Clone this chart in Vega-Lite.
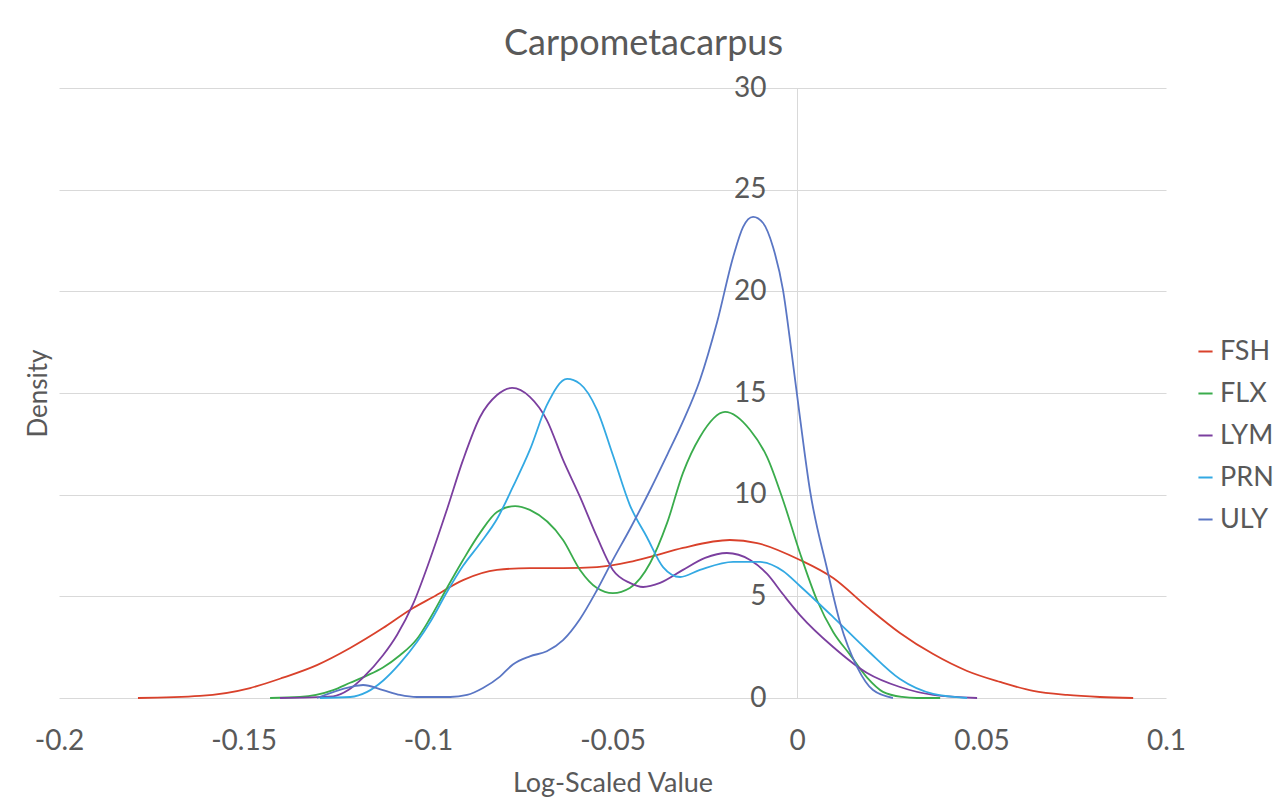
{
  "$schema": "https://vega.github.io/schema/vega-lite/v6.json",
  "autosize": {"type": "none"},
  "width": 1107,
  "height": 610,
  "padding": {"left": 59, "top": 88, "right": 120, "bottom": 109},
  "background": "white",
  "title": {"text": "Carpometacarpus", "fontSize": 36, "font": "Lato", "fontWeight": "normal", "color": "#595959", "anchor": "middle", "offset": 11, "dx": 31},
  "config": {
    "view": {"stroke": null},
    "font": "Lato"
  },
  "data": {"values": [
    {"s":"FSH","x":-0.1786,"y":0},{"s":"FSH","x":-0.1618,"y":0.1},{"s":"FSH","x":-0.1482,"y":0.49},{"s":"FSH","x":-0.1393,"y":1.0},{"s":"FSH","x":-0.1301,"y":1.62},{"s":"FSH","x":-0.1211,"y":2.46},{"s":"FSH","x":-0.1122,"y":3.44},{"s":"FSH","x":-0.1049,"y":4.33},{"s":"FSH","x":-0.0986,"y":4.97},{"s":"FSH","x":-0.0905,"y":5.8},{"s":"FSH","x":-0.0813,"y":6.3},{"s":"FSH","x":-0.0724,"y":6.39},{"s":"FSH","x":-0.0634,"y":6.39},{"s":"FSH","x":-0.0542,"y":6.44},{"s":"FSH","x":-0.0453,"y":6.69},{"s":"FSH","x":-0.0398,"y":6.94},{"s":"FSH","x":-0.0309,"y":7.38},{"s":"FSH","x":-0.0182,"y":7.77},{"s":"FSH","x":-0.0108,"y":7.62},{"s":"FSH","x":0.0008,"y":6.79},{"s":"FSH","x":0.0098,"y":5.9},{"s":"FSH","x":0.019,"y":4.48},{"s":"FSH","x":0.0279,"y":3.2},{"s":"FSH","x":0.0369,"y":2.16},{"s":"FSH","x":0.0461,"y":1.33},{"s":"FSH","x":0.055,"y":0.79},{"s":"FSH","x":0.064,"y":0.35},{"s":"FSH","x":0.0732,"y":0.15},{"s":"FSH","x":0.0821,"y":0.05},{"s":"FSH","x":0.0911,"y":0},
    {"s":"FLX","x":-0.1428,"y":0},{"s":"FLX","x":-0.1347,"y":0.05},{"s":"FLX","x":-0.1257,"y":0.39},{"s":"FLX","x":-0.1211,"y":0.75},{"s":"FLX","x":-0.1166,"y":1.1},{"s":"FLX","x":-0.1122,"y":1.5},{"s":"FLX","x":-0.1076,"y":2.1},{"s":"FLX","x":-0.103,"y":2.9},{"s":"FLX","x":-0.0995,"y":3.9},{"s":"FLX","x":-0.0949,"y":5.4},{"s":"FLX","x":-0.0905,"y":6.79},{"s":"FLX","x":-0.0859,"y":8.12},{"s":"FLX","x":-0.0813,"y":9.15},{"s":"FLX","x":-0.0764,"y":9.44},{"s":"FLX","x":-0.0724,"y":9.25},{"s":"FLX","x":-0.0634,"y":7.77},{"s":"FLX","x":-0.0588,"y":6.3},{"s":"FLX","x":-0.0542,"y":5.41},{"s":"FLX","x":-0.0499,"y":5.16},{"s":"FLX","x":-0.0453,"y":5.41},{"s":"FLX","x":-0.0398,"y":6.64},{"s":"FLX","x":-0.0352,"y":8.61},{"s":"FLX","x":-0.0309,"y":11.07},{"s":"FLX","x":-0.0263,"y":12.84},{"s":"FLX","x":-0.0195,"y":14.07},{"s":"FLX","x":-0.0127,"y":13.18},{"s":"FLX","x":-0.0081,"y":11.85},{"s":"FLX","x":-0.0038,"y":9.74},{"s":"FLX","x":0.0008,"y":7.13},{"s":"FLX","x":0.0054,"y":4.82},{"s":"FLX","x":0.0098,"y":3.25},{"s":"FLX","x":0.0144,"y":2.12},{"s":"FLX","x":0.019,"y":1.0},{"s":"FLX","x":0.0233,"y":0.3},{"s":"FLX","x":0.0285,"y":0.05},{"s":"FLX","x":0.0325,"y":0},{"s":"FLX","x":0.0388,"y":0},
    {"s":"LYM","x":-0.1401,"y":0},{"s":"LYM","x":-0.1257,"y":0.08},{"s":"LYM","x":-0.1215,"y":0.4},{"s":"LYM","x":-0.1176,"y":1.0},{"s":"LYM","x":-0.1122,"y":2.1},{"s":"LYM","x":-0.1084,"y":3.1},{"s":"LYM","x":-0.1041,"y":4.6},{"s":"LYM","x":-0.0995,"y":6.8},{"s":"LYM","x":-0.0949,"y":9.25},{"s":"LYM","x":-0.0905,"y":11.71},{"s":"LYM","x":-0.0859,"y":13.82},{"s":"LYM","x":-0.0813,"y":14.9},{"s":"LYM","x":-0.0772,"y":15.25},{"s":"LYM","x":-0.0724,"y":14.81},{"s":"LYM","x":-0.0678,"y":13.67},{"s":"LYM","x":-0.0634,"y":11.71},{"s":"LYM","x":-0.0588,"y":9.89},{"s":"LYM","x":-0.0542,"y":7.92},{"s":"LYM","x":-0.0499,"y":6.3},{"s":"LYM","x":-0.0453,"y":5.66},{"s":"LYM","x":-0.0417,"y":5.46},{"s":"LYM","x":-0.0371,"y":5.66},{"s":"LYM","x":-0.0309,"y":6.3},{"s":"LYM","x":-0.0249,"y":6.89},{"s":"LYM","x":-0.019,"y":7.13},{"s":"LYM","x":-0.0127,"y":6.79},{"s":"LYM","x":-0.0081,"y":6.1},{"s":"LYM","x":-0.0038,"y":5.1},{"s":"LYM","x":0.0008,"y":4.08},{"s":"LYM","x":0.0098,"y":2.51},{"s":"LYM","x":0.019,"y":1.23},{"s":"LYM","x":0.0279,"y":0.54},{"s":"LYM","x":0.0369,"y":0.15},{"s":"LYM","x":0.0488,"y":0},
    {"s":"PRN","x":-0.1293,"y":0},{"s":"PRN","x":-0.1211,"y":0.05},{"s":"PRN","x":-0.1165,"y":0.3},{"s":"PRN","x":-0.1122,"y":0.85},{"s":"PRN","x":-0.1076,"y":1.7},{"s":"PRN","x":-0.103,"y":2.75},{"s":"PRN","x":-0.0992,"y":3.8},{"s":"PRN","x":-0.0949,"y":5.2},{"s":"PRN","x":-0.0905,"y":6.5},{"s":"PRN","x":-0.0859,"y":7.6},{"s":"PRN","x":-0.0813,"y":8.8},{"s":"PRN","x":-0.077,"y":10.38},{"s":"PRN","x":-0.0724,"y":12.2},{"s":"PRN","x":-0.0678,"y":14.4},{"s":"PRN","x":-0.0623,"y":15.69},{"s":"PRN","x":-0.0588,"y":15.45},{"s":"PRN","x":-0.0542,"y":14.17},{"s":"PRN","x":-0.0499,"y":11.95},{"s":"PRN","x":-0.0453,"y":9.49},{"s":"PRN","x":-0.0407,"y":7.92},{"s":"PRN","x":-0.0363,"y":6.44},{"s":"PRN","x":-0.0317,"y":5.95},{"s":"PRN","x":-0.0263,"y":6.3},{"s":"PRN","x":-0.0173,"y":6.69},{"s":"PRN","x":-0.01,"y":6.69},{"s":"PRN","x":-0.0038,"y":6.25},{"s":"PRN","x":0.0008,"y":5.51},{"s":"PRN","x":0.0098,"y":3.98},{"s":"PRN","x":0.019,"y":2.36},{"s":"PRN","x":0.0279,"y":0.93},{"s":"PRN","x":0.0369,"y":0.2},{"s":"PRN","x":0.0461,"y":0},
    {"s":"ULY","x":-0.1301,"y":0},{"s":"ULY","x":-0.1211,"y":0.54},{"s":"ULY","x":-0.1176,"y":0.64},{"s":"ULY","x":-0.1122,"y":0.39},{"s":"ULY","x":-0.1076,"y":0.15},{"s":"ULY","x":-0.103,"y":0.05},{"s":"ULY","x":-0.094,"y":0.05},{"s":"ULY","x":-0.0894,"y":0.15},{"s":"ULY","x":-0.0851,"y":0.49},{"s":"ULY","x":-0.0805,"y":1.05},{"s":"ULY","x":-0.077,"y":1.65},{"s":"ULY","x":-0.0724,"y":2.05},{"s":"ULY","x":-0.0678,"y":2.3},{"s":"ULY","x":-0.0634,"y":2.85},{"s":"ULY","x":-0.0588,"y":3.89},{"s":"ULY","x":-0.0542,"y":5.31},{"s":"ULY","x":-0.0499,"y":6.79},{"s":"ULY","x":-0.0453,"y":8.3},{"s":"ULY","x":-0.0398,"y":10.23},{"s":"ULY","x":-0.0352,"y":11.95},{"s":"ULY","x":-0.0309,"y":13.6},{"s":"ULY","x":-0.0263,"y":15.64},{"s":"ULY","x":-0.0217,"y":18.45},{"s":"ULY","x":-0.0173,"y":21.69},{"s":"ULY","x":-0.0146,"y":23.17},{"s":"ULY","x":-0.0119,"y":23.66},{"s":"ULY","x":-0.0092,"y":23.36},{"s":"ULY","x":-0.0065,"y":22.18},{"s":"ULY","x":-0.0038,"y":20.07},{"s":"ULY","x":-0.0014,"y":16.9},{"s":"ULY","x":0.0008,"y":13.8},{"s":"ULY","x":0.0035,"y":10.23},{"s":"ULY","x":0.0081,"y":6.39},{"s":"ULY","x":0.0117,"y":3.69},{"s":"ULY","x":0.0163,"y":1.52},{"s":"ULY","x":0.0206,"y":0.39},{"s":"ULY","x":0.026,"y":0}
  ]},
  "mark": {"type": "line", "interpolate": "monotone", "strokeWidth": 1.8},
  "encoding": {
    "x": {
      "field": "x", "type": "quantitative",
      "scale": {"domain": [-0.2, 0.1], "nice": false, "zero": false},
      "axis": {
        "title": "Log-Scaled Value", "values": [-0.2, -0.15, -0.1, -0.05, 0, 0.05, 0.1],
        "labelExpr": "'' + datum.value",
        "labelFlush": false, "labelOverlap": false,
        "grid": false, "domain": false, "ticks": false,
        "labelFontSize": 28, "labelColor": "#595959", "labelPadding": 29, "labelFont": "Lato",
        "titleFontSize": 27, "titleColor": "#595959", "titleFontWeight": "normal", "titlePadding": 15, "titleFont": "Lato"
      }
    },
    "y": {
      "field": "y", "type": "quantitative",
      "scale": {"domain": [0, 30], "nice": false},
      "axis": {
        "title": "Density", "values": [0, 5, 10, 15, 20, 25, 30],
        "offset": -738,
        "labelFlush": false,
        "grid": true, "gridColor": "#d9d9d9", "gridWidth": 1.2,
        "domain": true, "domainColor": "#d9d9d9", "domainWidth": 1,
        "ticks": false,
        "labelFontSize": 28, "labelColor": "#595959", "labelPadding": 31, "labelFont": "Lato",
        "titleFontSize": 26, "titleColor": "#595959", "titleFontWeight": "normal", "titleFont": "Lato",
        "titleX": -746
      }
    },
    "color": {
      "field": "s", "type": "nominal",
      "scale": {"domain": ["FSH", "FLX", "LYM", "PRN", "ULY"], "range": ["#d9412b", "#3aac4c", "#7b3f9f", "#33a9e3", "#5a76c4"]},
      "legend": {
        "title": null, "orient": "none", "legendX": 1133, "legendY": 250,
        "symbolType": "stroke", "symbolStrokeWidth": 2, "symbolSize": 200,
        "labelFontSize": 27, "labelColor": "#595959", "labelFont": "Lato",
        "rowPadding": 14, "labelOffset": 1, "padding": 0
      }
    }
  }
}
